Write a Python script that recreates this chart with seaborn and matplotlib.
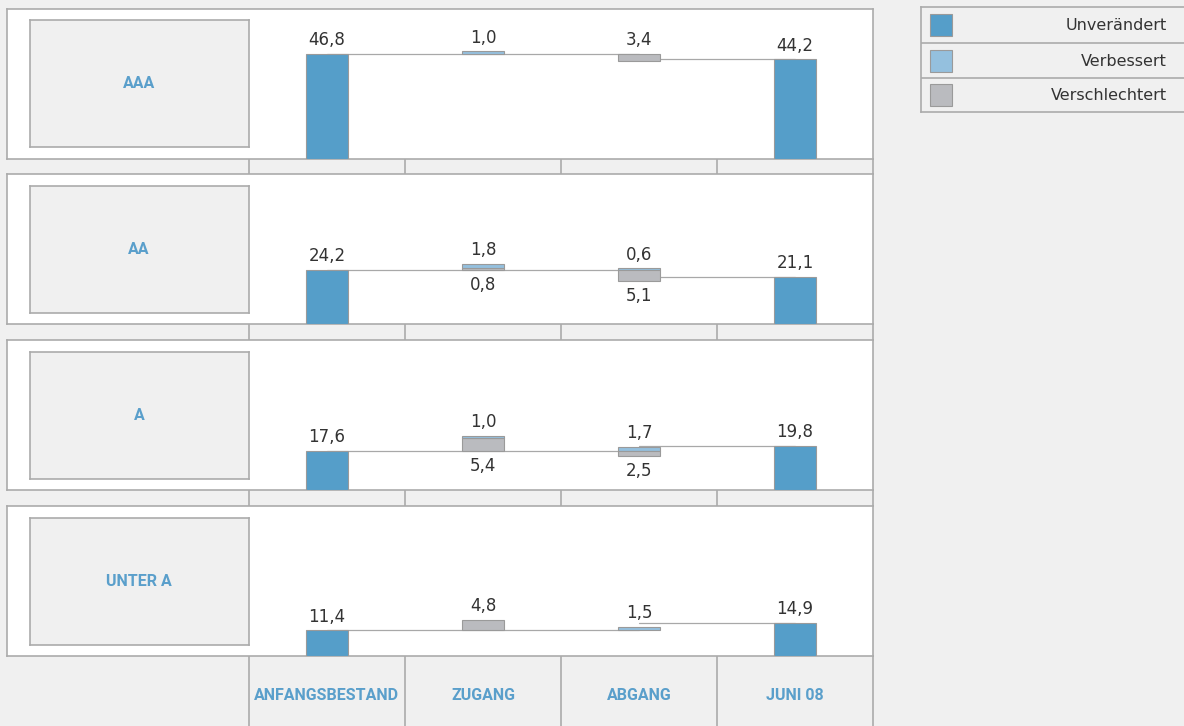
import matplotlib
matplotlib.use("Agg")
import matplotlib.pyplot as plt
from matplotlib.patches import Rectangle
import seaborn as sns
import pandas as pd

# ---------------- data ----------------
ratings = ["AAA", "AA", "A", "UNTER A"]
categories = ["ANFANGSBESTAND", "ZUGANG", "ABGANG", "JUNI 08"]
anfang = [46.8, 24.2, 17.6, 11.4]
zugang_verbessert = [1.0, 1.8, 1.0, 0.0]
zugang_verschlechtert = [0.0, 0.8, 5.4, 4.8]
abgang_verbessert = [0.0, 0.6, 1.7, 1.5]
abgang_verschlechtert = [3.4, 5.1, 2.5, 0.0]
juni = [44.2, 21.1, 19.8, 14.9]
legend_labels = ["Unverändert", "Verbessert", "Verschlechtert"]

# ---------------- style ----------------
C_UNV = "#559ec9"
C_VERB = "#94c0de"
C_VERS = "#babbbf"
BG = "#f0f0f0"
BORDER = "#ababab"
EDGE = "#9a9a9a"
LINE = "#a8a8a8"
TXT = "#333333"
BLUE_TXT = "#5a9fcb"

sns.set_style("white")
plt.rcParams["font.family"] = ["DejaVu Sans"]
HEAD_FONT = ["Roboto", "DejaVu Sans"]
HEAD_SIZE = 11.5

W, H = 1184, 726
fig = plt.figure(figsize=(W / 100, H / 100), dpi=100, facecolor=BG)


def fax(x0, y0, x1, y1):
    return fig.add_axes([x0 / W, 1 - y1 / H, (x1 - x0) / W, (y1 - y0) / H])


def style_box(a, face):
    a.set_facecolor(face)
    a.set_xticks([])
    a.set_yticks([])
    for s in a.spines.values():
        s.set_visible(True)
        s.set_color(BORDER)
        s.set_linewidth(1.2)


PX_PER_UNIT = 2.24
COL0, COLW = 249, 156
PANEL_L, PANEL_R = 7, 873
panel_tops = [8.5, 174, 340, 506]
PANEL_H = 150
BAR_W = 0.27
ncat = len(categories)


def fmt(v):
    return f"{v:.1f}".replace(".", ",")


def grid_strip(y0, y1):
    a = fax(COL0, y0, PANEL_R, y1)
    a.set_xlim(-0.5, ncat - 0.5)
    a.set_ylim(0, 1)
    a.axis("off")
    for k in range(ncat + 1):
        a.axvline(k - 0.5, color=BORDER, lw=1.2, clip_on=False)
    return a


# strips between panels
for i in range(len(ratings) - 1):
    grid_strip(panel_tops[i] + PANEL_H, panel_tops[i + 1])

# bottom category row
bax = grid_strip(panel_tops[-1] + PANEL_H, H)
for k, c in enumerate(categories):
    bax.text(k, 0.43, c, ha="center", va="center", fontsize=HEAD_SIZE,
             fontweight="bold", color=BLUE_TXT, family=HEAD_FONT)


def add_label(ax, x, y, v, above):
    if above:
        ax.annotate(fmt(v), (x, y), xytext=(0, 3.5), textcoords="offset points",
                    ha="center", va="bottom", fontsize=12, color=TXT)
    else:
        ax.annotate(fmt(v), (x, y), xytext=(0, -4.5), textcoords="offset points",
                    ha="center", va="top", fontsize=12, color=TXT)


for i, r in enumerate(ratings):
    top = panel_tops[i]
    bot = top + PANEL_H
    ax = fax(PANEL_L, top, PANEL_R, bot)

    df = pd.DataFrame({"Kategorie": [categories[0], categories[-1]],
                       "Wert": [anfang[i], juni[i]]})
    sns.barplot(data=df, x="Kategorie", y="Wert", order=categories,
                color=C_UNV, saturation=1, width=BAR_W, edgecolor=EDGE,
                linewidth=0.8, errorbar=None, ax=ax, zorder=3)

    start, end = anfang[i], juni[i]
    xz, xa = categories.index("ZUGANG"), categories.index("ABGANG")

    # connecting lines
    ax.plot([0, xa], [start, start], color=LINE, lw=0.9, zorder=1)
    ax.plot([xa, ncat - 1], [end, end], color=LINE, lw=0.9, zorder=1)

    # Zugang: verschlechtert stacked below, verbessert on top
    zg, zb = zugang_verschlechtert[i], zugang_verbessert[i]
    if zg > 0:
        ax.bar(xz, zg, bottom=start, width=BAR_W, color=C_VERS,
               edgecolor=EDGE, linewidth=0.8, zorder=3)
    if zb > 0:
        ax.bar(xz, zb, bottom=start + zg, width=BAR_W, color=C_VERB,
               edgecolor=EDGE, linewidth=0.8, zorder=3)
    ztop = start + zg + zb
    if zg > 0 and zb > 0:
        add_label(ax, xz, ztop, zb, True)
        add_label(ax, xz, start, zg, False)
    else:
        add_label(ax, xz, ztop, zg + zb, True)

    # Abgang: verbessert above start level, verschlechtert below
    ab, ag = abgang_verbessert[i], abgang_verschlechtert[i]
    if ab > 0:
        ax.bar(xa, ab, bottom=start, width=BAR_W, color=C_VERB,
               edgecolor=EDGE, linewidth=0.8, zorder=3)
    if ag > 0:
        ax.bar(xa, ag, bottom=start - ag, width=BAR_W, color=C_VERS,
               edgecolor=EDGE, linewidth=0.8, zorder=3)
    if ab > 0 and ag > 0:
        add_label(ax, xa, start + ab, ab, True)
        add_label(ax, xa, start - ag, ag, False)
    elif ab > 0:
        add_label(ax, xa, start + ab, ab, True)
    else:
        add_label(ax, xa, start, ag, True)

    add_label(ax, 0, start, start, True)
    add_label(ax, ncat - 1, end, end, True)

    ax.set_xlim(-0.5 - (COL0 - PANEL_L) / COLW, -0.5 + (PANEL_R - COL0) / COLW)
    ax.set_ylim(0, PANEL_H / PX_PER_UNIT)
    ax.set_xlabel("")
    ax.set_ylabel("")
    style_box(ax, "white")

    # rating label box
    lb = fax(29.5, top + 11.5, 248.5, bot - 11.5)
    style_box(lb, BG)
    lb.text(0.5, 0.5, r, transform=lb.transAxes, ha="center", va="center",
            fontsize=HEAD_SIZE, fontweight="bold", color=BLUE_TXT,
            family=HEAD_FONT)

# ---------------- legend ----------------
lg = fax(921, 7, 1190, 112)
style_box(lg, BG)
lg.set_xlim(921, 1190)
lg.set_ylim(112, 7)
row_tops = [7, 43, 78, 112]
for k, (lab, col) in enumerate(zip(legend_labels, [C_UNV, C_VERB, C_VERS])):
    t0, t1 = row_tops[k], row_tops[k + 1]
    if k > 0:
        lg.axhline(t0, color=BORDER, lw=1.2)
    mid = (t0 + t1) / 2
    lg.add_patch(Rectangle((929.5, mid - 11), 22, 22, facecolor=col,
                           edgecolor=EDGE, linewidth=0.8))
    lg.text(1167, mid + 1, lab, ha="right", va="center", fontsize=11.5,
            color=TXT)

fig.savefig("out.png", dpi=100, facecolor=BG)
